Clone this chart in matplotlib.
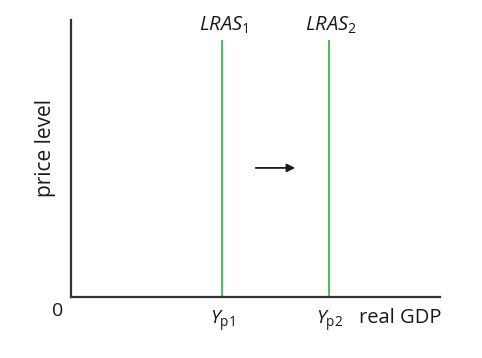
import matplotlib.pyplot as plt

plt.rcParams['font.family'] = ['Open Sans', 'DejaVu Sans']
plt.rcParams['mathtext.fontset'] = 'custom'
plt.rcParams['mathtext.rm'] = 'Open Sans'
plt.rcParams['mathtext.it'] = 'Open Sans:italic'

# positions (axis units, 0..100)
lras_names = ['$\\mathit{LRAS}_1$', '$\\mathit{LRAS}_2$']
lras_x = [40.9, 69.9]
lras_top = 92.8
tick_names = ['$Y_{\\mathrm{p1}}$', '$Y_{\\mathrm{p2}}$']
arrow_from = [49.3, 46.6]
arrow_to = [61.5, 46.6]

fig = plt.figure(figsize=(4.82, 3.58), dpi=100)
ax = fig.add_axes([71/482, 61/358, 369/482, 277/358])
ax.set_xlim(0, 100)
ax.set_ylim(0, 100)

for x in lras_x:
    ax.plot([x, x], [0, lras_top], color='#5cb85c', lw=1.5, solid_capstyle='butt')

for x, name in zip(lras_x, lras_names):
    ax.text(x + 0.5, 98.0, name, ha='center', va='center', fontsize=14.5, color='#1a1a1a')

for x, name in zip(lras_x, tick_names):
    ax.text(x + 0.3, -8.7, name, ha='center', va='center', fontsize=14, color='#1a1a1a')

ax.annotate('', xy=arrow_to, xytext=arrow_from,
            arrowprops=dict(arrowstyle='-|>', color='#1a1a1a', lw=1.3, mutation_scale=12))

ax.text(-2.2, -5, '0', ha='right', va='center', fontsize=14, color='#1a1a1a')
ax.text(100.5, -7.7, 'real GDP', ha='right', va='center', fontsize=14.5, color='#1a1a1a')
ax.text(-6.8, 53.8, 'price level', ha='center', va='center', rotation=90, fontsize=15,
        color='#1a1a1a')

for s in ['top', 'right']:
    ax.spines[s].set_visible(False)
for s in ['left', 'bottom']:
    ax.spines[s].set_linewidth(1.6)
    ax.spines[s].set_color('#333333')
ax.set_xticks([])
ax.set_yticks([])

fig.savefig('out.png', dpi=100)
